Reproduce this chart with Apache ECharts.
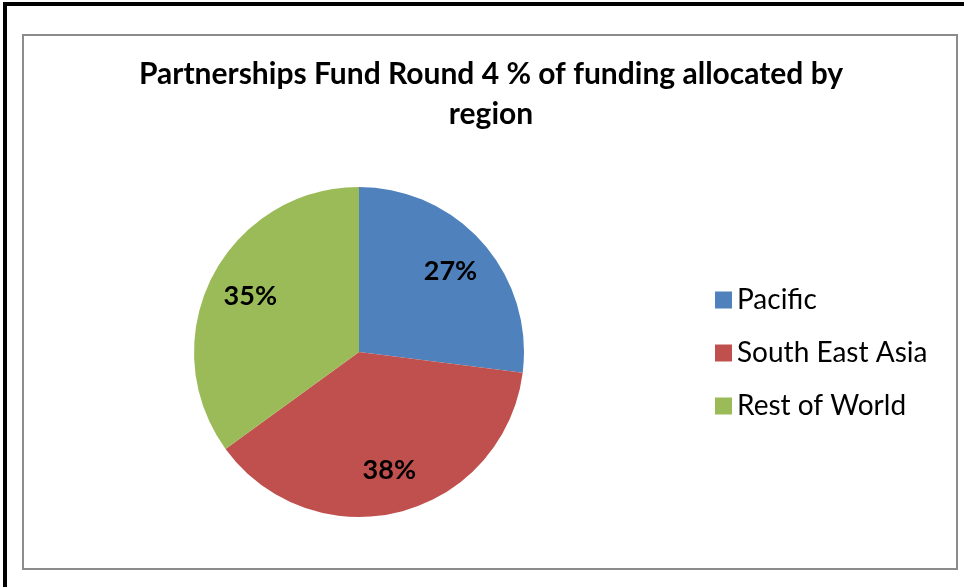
<!DOCTYPE html>
<html>
<head>
<meta charset="utf-8">
<script src="https://cdn.jsdelivr.net/npm/echarts@6/dist/echarts.min.js"></script>
<style>
  html, body { margin: 0; padding: 0; background: #fff; }
  #main { width: 964px; height: 587px; }
</style>
</head>
<body>
<div id="main"></div>
<script>
var regions = ['Pacific', 'South East Asia', 'Rest of World'];
var shares = [27, 38, 35];
var sliceColors = ['#4F81BD', '#C0504D', '#9BBB59'];
var titleLines = ['Partnerships Fund Round 4 % of funding allocated by', 'region'];

var chart = echarts.init(document.getElementById('main'));

var pieData = regions.map(function (name, i) {
    return { name: name, value: shares[i], itemStyle: { color: sliceColors[i] } };
});

var option = {
    animation: false,
    textStyle: { fontFamily: 'Lato' },
    graphic: [{
        // outer black frame
        type: 'rect',
        shape: { x: 5, y: 4, width: 1000, height: 1000 },
        style: { fill: 'none', stroke: '#000', lineWidth: 4 },
        silent: true
    }, {
        // chart area border
        type: 'rect',
        shape: { x: 23, y: 35, width: 934, height: 534 },
        style: { fill: 'none', stroke: '#8c8c8c', lineWidth: 2 },
        silent: true
    }, {
        type: 'text',
        x: 491,
        y: 54,
        style: {
            text: titleLines.join('\n'),
            textAlign: 'center',
            fontFamily: 'Lato',
            fontWeight: 'bold',
            fontSize: 30,
            lineHeight: 40,
            fill: '#000'
        }
    }],
    legend: {
        orient: 'vertical',
        left: 710,
        top: 281,
        itemWidth: 17,
        itemHeight: 17,
        itemGap: 25,
        icon: 'rect',
        data: regions,
        textStyle: {
            fontFamily: 'Lato',
            fontSize: 28,
            lineHeight: 28,
            color: '#000',
            padding: [0, 0, 0, 0]
        }
    },
    series: [{
        type: 'pie',
        center: [359, 352],
        radius: 165,
        startAngle: 90,
        clockwise: true,
        label: { show: false },
        labelLine: { show: false },
        emphasis: { disabled: true },
        data: pieData
    }, {
        // label ring, places the percentages further out than the default inside spot
        type: 'pie',
        center: [359, 352],
        radius: [73, 165],
        startAngle: 90,
        clockwise: true,
        silent: true,
        itemStyle: { color: 'rgba(0,0,0,0)' },
        label: {
            show: true,
            position: 'inside',
            formatter: '{c}%',
            fontFamily: 'Lato',
            fontWeight: 'bold',
            fontSize: 27,
            color: '#000'
        },
        labelLine: { show: false },
        emphasis: { disabled: true },
        data: regions.map(function (name, i) {
            return { name: name, value: shares[i] };
        })
    }]
};

chart.setOption(option);
</script>
</body>
</html>
